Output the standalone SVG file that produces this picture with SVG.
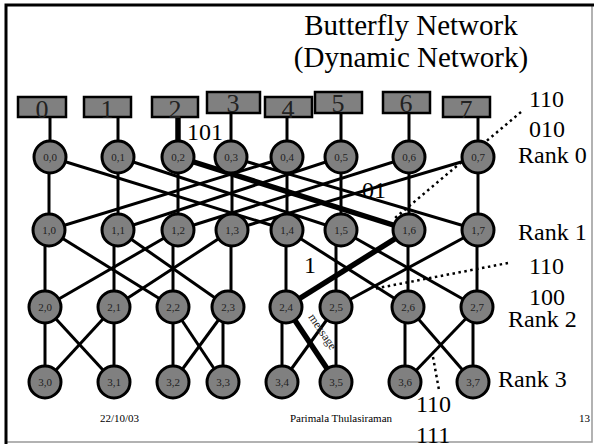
<svg xmlns="http://www.w3.org/2000/svg" width="594" height="444" viewBox="0 0 594 444">
<style>
.e{stroke:#000;stroke-width:3;fill:none}
.t{stroke:#000;stroke-width:5.5;fill:none}
.d{stroke:#000;stroke-width:2.5;stroke-dasharray:2.5 3.5;fill:none}
.n circle{fill:#808080;stroke:#000;stroke-width:3}
.n text{font-size:11px;fill:#222;text-anchor:middle}
.b rect{fill:#808080;stroke:#000;stroke-width:2.5}
.b text{font-size:26px;fill:#222;text-anchor:middle}
.l{font-size:24px;fill:#000}
.f{font-size:11px;fill:#000}
</style>
<rect x="0" y="0" width="594" height="444" fill="#fff"/>
<rect x="6" y="5" width="586" height="437" fill="none" stroke="#999" stroke-width="1.5"/>
<path d="M6 444 V5 H594" fill="none" stroke="#000" stroke-width="3"/>
<g font-family="'Liberation Serif','Times New Roman','DejaVu Serif',serif">
<g id="title">
<text class="l" x="411" y="35" text-anchor="middle" style="font-size:29px">Butterfly Network</text>
<text class="l" x="411" y="67" text-anchor="middle" style="font-size:29px">(Dynamic Network)</text>
</g>
<g id="connectors">
<line class="e" x1="50" y1="117" x2="50" y2="157"/>
<line class="e" x1="118" y1="117" x2="118" y2="157"/>
<line class="t" x1="178" y1="117" x2="178" y2="150"/>
<line class="e" x1="231" y1="113" x2="231" y2="157"/>
<line class="e" x1="287" y1="117" x2="287" y2="157"/>
<line class="e" x1="341" y1="113" x2="341" y2="157"/>
<line class="e" x1="409" y1="113" x2="409" y2="157"/>
<line class="e" x1="478" y1="117" x2="478" y2="157"/>
<line class="e" x1="49" y1="157" x2="49" y2="230"/>
<line class="e" x1="118" y1="157" x2="118" y2="230"/>
<line class="e" x1="178" y1="157" x2="178" y2="230"/>
<line class="e" x1="232" y1="157" x2="232" y2="230"/>
<line class="e" x1="287" y1="157" x2="287" y2="230"/>
<line class="e" x1="341" y1="157" x2="341" y2="230"/>
<line class="e" x1="409" y1="157" x2="409" y2="230"/>
<line class="e" x1="478" y1="157" x2="478" y2="230"/>
<line class="e" x1="50" y1="157" x2="287" y2="230"/>
<line class="e" x1="118" y1="157" x2="341" y2="230"/>
<line class="e" x1="231" y1="157" x2="478" y2="230"/>
<line class="e" x1="287" y1="157" x2="49" y2="230"/>
<line class="e" x1="341" y1="157" x2="118" y2="230"/>
<line class="e" x1="409" y1="157" x2="178" y2="230"/>
<line class="e" x1="478" y1="157" x2="232" y2="230"/>
<line class="t" x1="178" y1="157" x2="409" y2="230"/>
<line class="e" x1="45" y1="230" x2="45" y2="307"/>
<line class="e" x1="114" y1="230" x2="114" y2="307"/>
<line class="e" x1="173" y1="230" x2="173" y2="307"/>
<line class="e" x1="231" y1="230" x2="231" y2="307"/>
<line class="e" x1="286" y1="230" x2="286" y2="307"/>
<line class="e" x1="336" y1="230" x2="336" y2="307"/>
<line class="e" x1="408" y1="230" x2="408" y2="307"/>
<line class="e" x1="477" y1="230" x2="477" y2="307"/>
<line class="e" x1="49" y1="230" x2="173" y2="307"/>
<line class="e" x1="118" y1="230" x2="228" y2="307"/>
<line class="e" x1="178" y1="230" x2="45" y2="307"/>
<line class="e" x1="232" y1="230" x2="114" y2="307"/>
<line class="e" x1="287" y1="230" x2="408" y2="307"/>
<line class="e" x1="341" y1="230" x2="477" y2="307"/>
<line class="e" x1="478" y1="230" x2="336" y2="307"/>
<line class="t" x1="409" y1="230" x2="286" y2="307"/>
<line class="e" x1="45" y1="307" x2="45" y2="382"/>
<line class="e" x1="114" y1="307" x2="114" y2="382"/>
<line class="e" x1="173" y1="307" x2="173" y2="382"/>
<line class="e" x1="223" y1="307" x2="223" y2="382"/>
<line class="e" x1="282" y1="307" x2="282" y2="382"/>
<line class="e" x1="336" y1="307" x2="336" y2="382"/>
<line class="e" x1="405" y1="307" x2="405" y2="382"/>
<line class="e" x1="473" y1="307" x2="473" y2="382"/>
<line class="e" x1="45" y1="307" x2="114" y2="382"/>
<line class="e" x1="114" y1="307" x2="45" y2="382"/>
<line class="e" x1="173" y1="307" x2="223" y2="382"/>
<line class="e" x1="228" y1="307" x2="173" y2="382"/>
<line class="e" x1="336" y1="307" x2="282" y2="382"/>
<line class="e" x1="408" y1="307" x2="473" y2="382"/>
<line class="e" x1="477" y1="307" x2="405" y2="382"/>
<line class="t" x1="286" y1="307" x2="336" y2="382"/>
<line class="d" x1="521" y1="112" x2="395" y2="218"/>
<line class="d" x1="508" y1="263" x2="373" y2="289"/>
<line class="d" x1="433" y1="357" x2="439" y2="390"/>
</g>
<g id="box0" class="b"><rect x="18" y="97" width="48" height="20"/><text x="42" y="118">0</text></g>
<g id="box1" class="b"><rect x="84" y="97" width="47" height="20"/><text x="107" y="118">1</text></g>
<g id="box2" class="b"><rect x="152" y="97" width="46" height="20"/><text x="175" y="118">2</text></g>
<g id="box3" class="b"><rect x="207" y="92" width="53" height="21"/><text x="233" y="112">3</text></g>
<g id="box4" class="b"><rect x="265" y="97" width="47" height="20"/><text x="288" y="118">4</text></g>
<g id="box5" class="b"><rect x="315" y="92" width="47" height="21"/><text x="338" y="112">5</text></g>
<g id="box6" class="b"><rect x="383" y="92" width="47" height="21"/><text x="406" y="112">6</text></g>
<g id="box7" class="b"><rect x="443" y="97" width="47" height="20"/><text x="466" y="118">7</text></g>
<g id="n00" class="n"><circle cx="50" cy="157" r="16"/><text x="50" y="161">0,0</text></g>
<g id="n01" class="n"><circle cx="118" cy="157" r="16"/><text x="118" y="161">0,1</text></g>
<g id="n02" class="n"><circle cx="178" cy="157" r="16"/><text x="178" y="161">0,2</text></g>
<g id="n03" class="n"><circle cx="231" cy="157" r="16"/><text x="231" y="161">0,3</text></g>
<g id="n04" class="n"><circle cx="287" cy="157" r="16"/><text x="287" y="161">0,4</text></g>
<g id="n05" class="n"><circle cx="341" cy="157" r="16"/><text x="341" y="161">0,5</text></g>
<g id="n06" class="n"><circle cx="409" cy="157" r="16"/><text x="409" y="161">0,6</text></g>
<g id="n07" class="n"><circle cx="478" cy="157" r="16"/><text x="478" y="161">0,7</text></g>
<g id="n10" class="n"><circle cx="49" cy="230" r="16"/><text x="49" y="234">1,0</text></g>
<g id="n11" class="n"><circle cx="118" cy="230" r="16"/><text x="118" y="234">1,1</text></g>
<g id="n12" class="n"><circle cx="178" cy="230" r="16"/><text x="178" y="234">1,2</text></g>
<g id="n13" class="n"><circle cx="232" cy="230" r="16"/><text x="232" y="234">1,3</text></g>
<g id="n14" class="n"><circle cx="287" cy="230" r="16"/><text x="287" y="234">1,4</text></g>
<g id="n15" class="n"><circle cx="341" cy="230" r="16"/><text x="341" y="234">1,5</text></g>
<g id="n16" class="n"><circle cx="409" cy="230" r="16"/><text x="409" y="234">1,6</text></g>
<g id="n17" class="n"><circle cx="478" cy="230" r="16"/><text x="478" y="234">1,7</text></g>
<g id="n20" class="n"><circle cx="45" cy="307" r="16"/><text x="45" y="311">2,0</text></g>
<g id="n21" class="n"><circle cx="114" cy="307" r="16"/><text x="114" y="311">2,1</text></g>
<g id="n22" class="n"><circle cx="173" cy="307" r="16"/><text x="173" y="311">2,2</text></g>
<g id="n23" class="n"><circle cx="228" cy="307" r="16"/><text x="228" y="311">2,3</text></g>
<g id="n24" class="n"><circle cx="286" cy="307" r="16"/><text x="286" y="311">2,4</text></g>
<g id="n25" class="n"><circle cx="336" cy="307" r="16"/><text x="336" y="311">2,5</text></g>
<g id="n26" class="n"><circle cx="408" cy="307" r="16"/><text x="408" y="311">2,6</text></g>
<g id="n27" class="n"><circle cx="477" cy="307" r="16"/><text x="477" y="311">2,7</text></g>
<g id="n30" class="n"><circle cx="45" cy="382" r="16"/><text x="45" y="386">3,0</text></g>
<g id="n31" class="n"><circle cx="114" cy="382" r="16"/><text x="114" y="386">3,1</text></g>
<g id="n32" class="n"><circle cx="173" cy="382" r="16"/><text x="173" y="386">3,2</text></g>
<g id="n33" class="n"><circle cx="223" cy="382" r="16"/><text x="223" y="386">3,3</text></g>
<g id="n34" class="n"><circle cx="282" cy="382" r="16"/><text x="282" y="386">3,4</text></g>
<g id="n35" class="n"><circle cx="336" cy="382" r="16"/><text x="336" y="386">3,5</text></g>
<g id="n36" class="n"><circle cx="405" cy="382" r="16"/><text x="405" y="386">3,6</text></g>
<g id="n37" class="n"><circle cx="473" cy="382" r="16"/><text x="473" y="386">3,7</text></g>
<g id="labels">
<text class="l" x="187" y="140">101</text>
<text class="l" x="362" y="198">01</text>
<text class="l" x="304" y="273">1</text>
<text class="l" x="529" y="107">110</text>
<text class="l" x="529" y="137">010</text>
<text class="l" x="518" y="163">Rank 0</text>
<text class="l" x="518" y="240">Rank 1</text>
<text class="l" x="529" y="274">110</text>
<text class="l" x="529" y="305">100</text>
<text class="l" x="508" y="327">Rank 2</text>
<text class="l" x="498" y="387">Rank 3</text>
<text class="l" x="416" y="412">110</text>
<text class="l" x="416" y="443">111</text>
<text x="0" y="0" transform="translate(308,317) rotate(56)" font-size="12" fill="#222">message</text>
<text class="f" x="100" y="422">22/10/03</text>
<text class="f" x="341" y="422" text-anchor="middle">Parimala Thulasiraman</text>
<text class="f" x="579" y="422">13</text>
</g>
</g>
</svg>
